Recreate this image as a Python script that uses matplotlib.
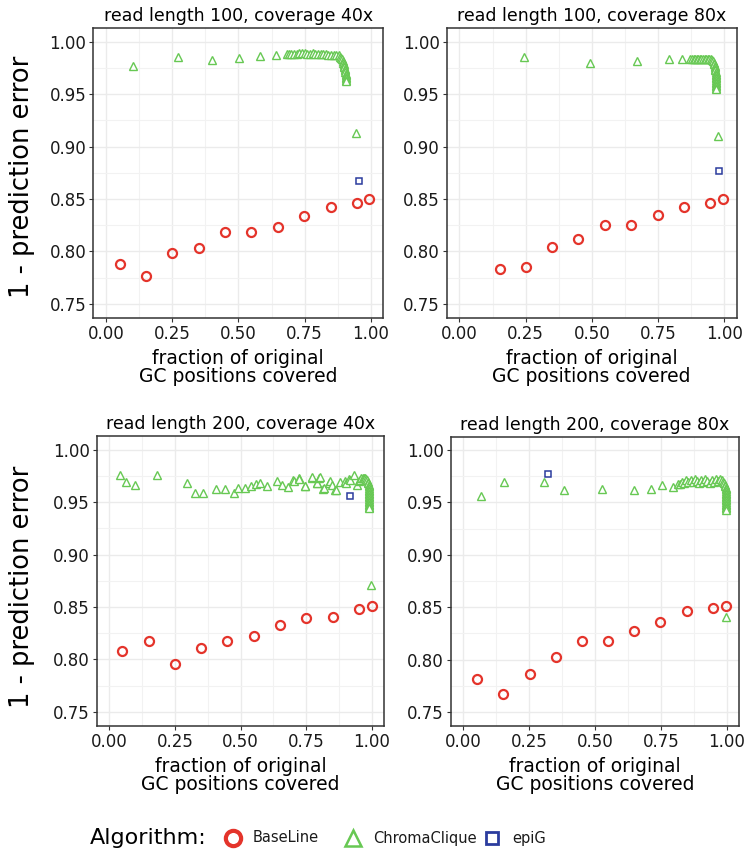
import matplotlib
matplotlib.use('Agg')
import matplotlib.pyplot as plt
from matplotlib.ticker import MultipleLocator, FormatStrFormatter
from matplotlib.lines import Line2D

plt.rcParams['font.family'] = ['DejaVu Sans']

# ---------------- data ----------------
# read length 100, coverage 40x
BL_X_100_40 = [0.052, 0.151, 0.250, 0.350, 0.449, 0.548, 0.649, 0.748, 0.849, 0.948, 0.994]
BL_Y_100_40 = [0.7876, 0.7764, 0.7984, 0.8029, 0.8181, 0.8184, 0.8229, 0.8334, 0.8423, 0.8458, 0.8502]
CC_X_100_40 = [0.103, 0.273, 0.399, 0.503, 0.581, 0.640, 0.682,
               0.690, 0.700, 0.710, 0.720, 0.730, 0.740, 0.750, 0.760, 0.770, 0.780,
               0.790, 0.800, 0.810, 0.820, 0.830, 0.840, 0.850, 0.860, 0.870, 0.878,
               0.884, 0.888, 0.891, 0.893, 0.895, 0.897, 0.899, 0.900, 0.902, 0.903,
               0.904, 0.905, 0.906, 0.907, 0.907, 0.908, 0.908, 0.943]
CC_Y_100_40 = [0.9765, 0.9857, 0.9828, 0.9841, 0.9867, 0.9873, 0.9880,
               0.9882, 0.9885, 0.9883, 0.9886, 0.9888, 0.9887, 0.9889, 0.9886, 0.9884, 0.9887,
               0.9885, 0.9882, 0.9883, 0.9880, 0.9878, 0.9877, 0.9876, 0.9873, 0.9872, 0.9868,
               0.9858, 0.9845, 0.9830, 0.9815, 0.9800, 0.9785, 0.9770, 0.9755, 0.9740, 0.9725,
               0.9710, 0.9695, 0.9680, 0.9665, 0.9650, 0.9635, 0.9625, 0.9132]
EP_X_100_40 = [0.956]
EP_Y_100_40 = [0.8674]

# read length 100, coverage 80x
BL_X_100_80 = [0.152, 0.251, 0.350, 0.449, 0.549, 0.648, 0.748, 0.849, 0.948, 0.997]
BL_Y_100_80 = [0.7831, 0.7850, 0.8038, 0.8115, 0.8254, 0.8257, 0.8343, 0.8420, 0.8464, 0.8502]
CC_X_100_80 = [0.245, 0.493, 0.670, 0.791, 0.841,
               0.872, 0.878, 0.884, 0.890, 0.896, 0.902, 0.908, 0.914, 0.920, 0.926,
               0.932, 0.938, 0.944, 0.950, 0.954, 0.958, 0.961, 0.963, 0.964, 0.965,
               0.966, 0.966, 0.967, 0.967, 0.967, 0.968, 0.968, 0.968, 0.969, 0.969,
               0.969, 0.969, 0.970, 0.970, 0.976]
CC_Y_100_80 = [0.9851, 0.9794, 0.9819, 0.9838, 0.9838,
               0.9832, 0.9836, 0.9834, 0.9838, 0.9835, 0.9839, 0.9836, 0.9834, 0.9838, 0.9836,
               0.9837, 0.9839, 0.9836, 0.9832, 0.9825, 0.9812, 0.9798, 0.9784, 0.9770, 0.9755,
               0.9740, 0.9725, 0.9710, 0.9695, 0.9680, 0.9665, 0.9650, 0.9635, 0.9620, 0.9605,
               0.9590, 0.9575, 0.9560, 0.9545, 0.9103]
EP_X_100_80 = [0.980]
EP_Y_100_80 = [0.8769]

# read length 200, coverage 40x
BL_X_200_40 = [0.050, 0.150, 0.250, 0.351, 0.450, 0.549, 0.649, 0.750, 0.850, 0.949, 1.000]
BL_Y_200_40 = [0.8081, 0.8173, 0.7955, 0.8107, 0.8176, 0.8220, 0.8331, 0.8394, 0.8403, 0.8479, 0.8512]
CC_X_200_40 = [0.042, 0.063, 0.097, 0.182, 0.297, 0.325, 0.358, 0.408, 0.440, 0.473,
               0.490, 0.517, 0.540, 0.558, 0.573, 0.600, 0.640, 0.658, 0.682, 0.699,
               0.702, 0.721, 0.723, 0.745, 0.746, 0.770, 0.771, 0.790, 0.791, 0.800,
               0.803, 0.815, 0.819, 0.836, 0.841, 0.847, 0.860, 0.864, 0.879, 0.898,
               0.902, 0.914, 0.917, 0.930, 0.943,
               0.950, 0.955, 0.960, 0.965, 0.970, 0.975, 0.979, 0.982, 0.984, 0.986,
               0.987, 0.988, 0.988, 0.989, 0.989, 0.989, 0.989, 0.990, 0.990, 0.990,
               0.990, 0.990, 0.990, 0.990, 0.990, 0.990, 0.997]
CC_Y_200_40 = [0.9756, 0.9690, 0.9662, 0.9754, 0.9683, 0.9589, 0.9589, 0.9624, 0.9621, 0.9589,
               0.9630, 0.9630, 0.9655, 0.9671, 0.9678, 0.9655, 0.9697, 0.9662, 0.9646, 0.9709,
               0.9700, 0.9725, 0.9718, 0.9652, 0.9655, 0.9734, 0.9740, 0.9680, 0.9678, 0.9731,
               0.9735, 0.9625, 0.9630, 0.9678, 0.9705, 0.9660, 0.9612, 0.9614, 0.9693, 0.9700,
               0.9678, 0.9716, 0.9712, 0.9754, 0.9660,
               0.9700, 0.9715, 0.9725, 0.9730, 0.9732, 0.9730, 0.9722, 0.9710, 0.9695, 0.9680,
               0.9665, 0.9650, 0.9635, 0.9620, 0.9605, 0.9590, 0.9575, 0.9560, 0.9545, 0.9530,
               0.9515, 0.9500, 0.9485, 0.9470, 0.9455, 0.9440, 0.8707]
EP_X_200_40 = [0.915]
EP_Y_200_40 = [0.9557]

# read length 200, coverage 80x
BL_X_200_80 = [0.052, 0.152, 0.251, 0.351, 0.451, 0.550, 0.649, 0.748, 0.848, 0.948, 0.997]
BL_Y_200_80 = [0.7816, 0.7668, 0.7863, 0.8021, 0.8176, 0.8180, 0.8271, 0.8356, 0.8467, 0.8489, 0.8512]
CC_X_200_80 = [0.066, 0.156, 0.305, 0.382, 0.525, 0.647, 0.713, 0.752, 0.795, 0.816,
               0.822, 0.830, 0.838, 0.846, 0.854, 0.862, 0.870, 0.878, 0.886, 0.894,
               0.902, 0.910, 0.918, 0.926, 0.934, 0.942, 0.950, 0.958, 0.966, 0.974,
               0.980, 0.985, 0.989, 0.992, 0.994, 0.995, 0.996, 0.996, 0.996, 0.997,
               0.997, 0.997, 0.997, 0.997, 0.997, 0.997, 0.997, 0.997, 0.997, 0.997,
               0.996]
CC_Y_200_80 = [0.9560, 0.9697, 0.9697, 0.9617, 0.9624, 0.9617, 0.9624, 0.9668, 0.9646, 0.9678,
               0.9680, 0.9700, 0.9690, 0.9710, 0.9695, 0.9715, 0.9700, 0.9720, 0.9705, 0.9690,
               0.9715, 0.9700, 0.9722, 0.9705, 0.9690, 0.9712, 0.9700, 0.9725, 0.9708, 0.9722,
               0.9715, 0.9700, 0.9685, 0.9670, 0.9655, 0.9640, 0.9625, 0.9610, 0.9595, 0.9580,
               0.9565, 0.9550, 0.9535, 0.9520, 0.9505, 0.9490, 0.9475, 0.9460, 0.9445, 0.9430,
               0.8407]
EP_X_200_80 = [0.323]
EP_Y_200_80 = [0.9769]

TITLES = ['read length 100, coverage 40x', 'read length 100, coverage 80x',
          'read length 200, coverage 40x', 'read length 200, coverage 80x']
LEGEND_LABELS = ['BaseLine', 'ChromaClique', 'epiG']

RED = '#E4342B'
GREEN = '#67C853'
BLUE = '#2B3C9E'

# ---------------- layout ----------------
W, H = 751, 852
fig = plt.figure(figsize=(W / 100, H / 100), dpi=100)


def px_axes(l, t, r, b):
    return fig.add_axes([l / W, 1 - b / H, (r - l) / W, (b - t) / H])


boxes = [(93.3, 28, 383.3, 318), (446.7, 28, 736.7, 318),
         (96.7, 436, 384.3, 726), (450.7, 436.5, 739.3, 726)]
panels = [(BL_X_100_40, BL_Y_100_40, CC_X_100_40, CC_Y_100_40, EP_X_100_40, EP_Y_100_40),
          (BL_X_100_80, BL_Y_100_80, CC_X_100_80, CC_Y_100_80, EP_X_100_80, EP_Y_100_80),
          (BL_X_200_40, BL_Y_200_40, CC_X_200_40, CC_Y_200_40, EP_X_200_40, EP_Y_200_40),
          (BL_X_200_80, BL_Y_200_80, CC_X_200_80, CC_Y_200_80, EP_X_200_80, EP_Y_200_80)]

for box, title, (blx, bly, ccx, ccy, epx, epy) in zip(boxes, TITLES, panels):
    ax = px_axes(*box)
    ax.set_xlim(-0.048, 1.047)
    ax.set_ylim(0.7366, 1.013)
    ax.xaxis.set_major_locator(MultipleLocator(0.25))
    ax.xaxis.set_minor_locator(MultipleLocator(0.125))
    ax.yaxis.set_major_locator(MultipleLocator(0.05))
    ax.yaxis.set_minor_locator(MultipleLocator(0.025))
    ax.xaxis.set_major_formatter(FormatStrFormatter('%.2f'))
    ax.yaxis.set_major_formatter(FormatStrFormatter('%.2f'))
    ax.grid(which='major', color='#EBEBEB', linewidth=1.0)
    ax.grid(which='minor', color='#F2F2F2', linewidth=0.8)
    ax.set_axisbelow(True)
    for s in ax.spines.values():
        s.set_color('#333333')
        s.set_linewidth(1.1)
    ax.tick_params(which='major', length=3, width=0.8, color='#333333',
                   labelsize=12, labelcolor='#1a1a1a', pad=2)
    ax.tick_params(which='minor', length=0)

    ax.plot(blx, bly, linestyle='none', marker='o', ms=6.5, mfc='none', mec=RED, mew=1.6)
    ax.plot(ccx, ccy, linestyle='none', marker='^', ms=6, mfc='white', mec=GREEN, mew=1.0)
    ax.plot(epx, epy, linestyle='none', marker='s', ms=4.8, mfc='none', mec=BLUE, mew=1.1)

    ax.set_title(title, fontsize=12.5, pad=5)
    ax.set_xlabel('fraction of original\nGC positions covered', fontsize=13.5,
                  linespacing=1.0, labelpad=4)

for yc in (177, 587):
    fig.text(22 / W, 1 - yc / H, '1 - prediction error', rotation=90,
             ha='center', va='center', fontsize=18.5)

# ---------------- legend ----------------
ly = 1 - 838 / H
fig.text(90 / W, ly, 'Algorithm:', ha='left', va='center', fontsize=16)
keys = [(233, 'o', RED, 11, 3.0, 'none'), (353, '^', GREEN, 12, 1.8, 'none'),
        (492, 's', BLUE, 9, 2.0, 'none')]
for (kx, mk, col, ms, mw, fc), lab in zip(keys, LEGEND_LABELS):
    fig.add_artist(Line2D([kx / W], [ly], marker=mk, ms=ms, mec=col, mfc=fc, mew=mw,
                          linestyle='none', transform=fig.transFigure))
    fig.text((kx + 20) / W, ly, lab, ha='left', va='center', fontsize=10.5, color='#1a1a1a')

fig.savefig('out.png', dpi=100)
